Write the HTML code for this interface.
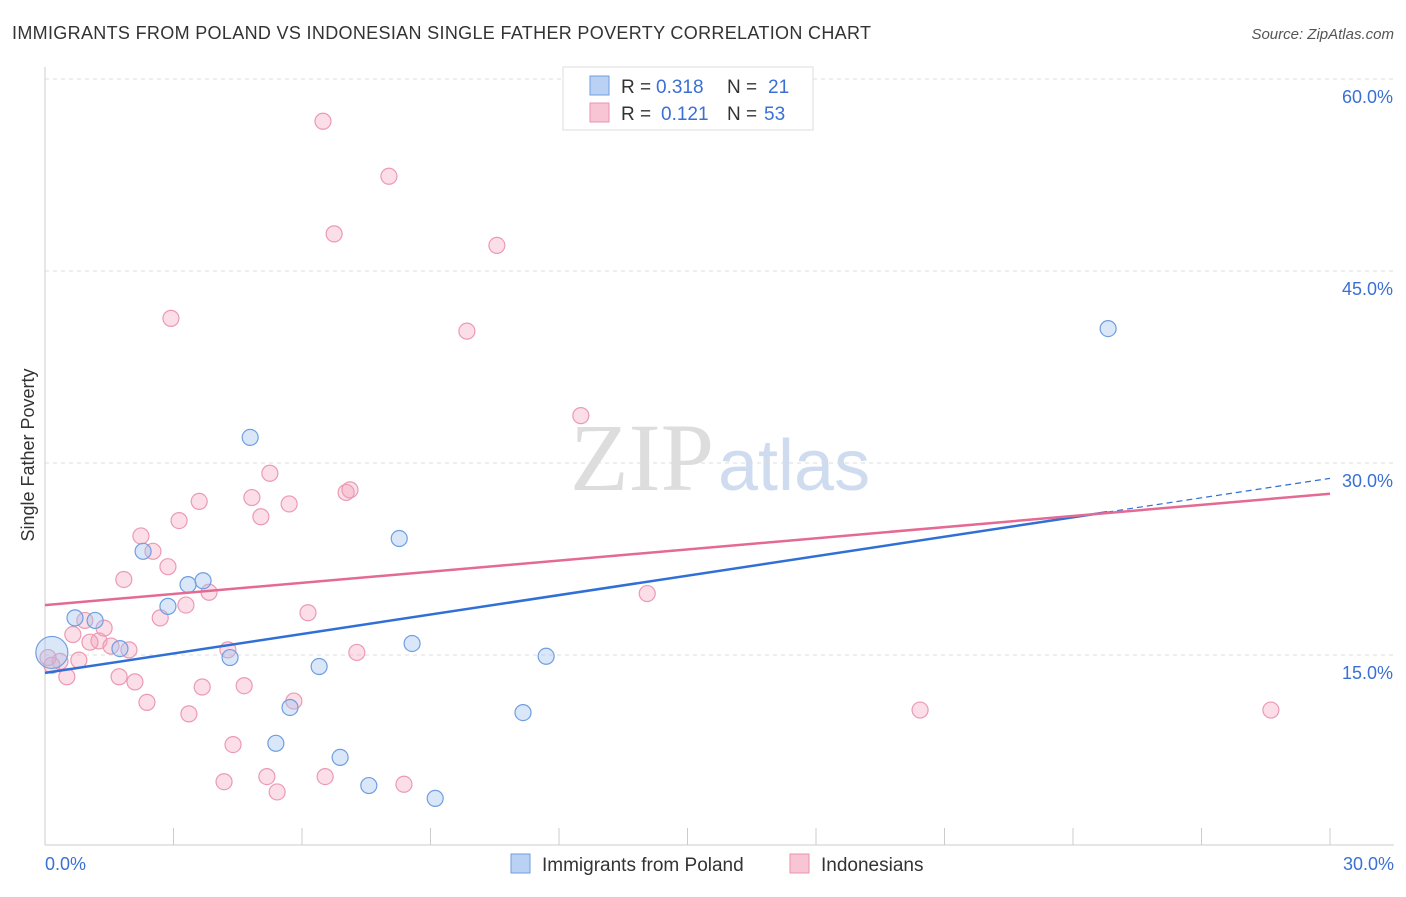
<!DOCTYPE html>
<html><head><meta charset="utf-8"><style>
body{margin:0;background:#fff;font-family:"Liberation Sans",sans-serif;}
</style></head><body>
<svg id="c" width="1406" height="892" xmlns="http://www.w3.org/2000/svg">
<text x="12" y="39" font-size="18" fill="#333" textLength="859">IMMIGRANTS FROM POLAND VS INDONESIAN SINGLE FATHER POVERTY CORRELATION CHART</text>
<text x="1394" y="39" font-size="15" fill="#555" font-style="italic" text-anchor="end">Source: ZipAtlas.com</text>
<text x="714" y="490" font-size="96" fill="#ddd" text-anchor="end" font-family="Liberation Serif,serif">ZIP</text>
<text x="718" y="490" font-size="72" fill="#cfdcf0">atlas</text>
<text transform="translate(34,455) rotate(-90)" font-size="18" fill="#333" text-anchor="middle">Single Father Poverty</text>
<g id="grid"></g><g id="pts"></g><g id="lines"></g>
<g font-size="19">
<rect x="563" y="67" width="250" height="63" fill="#fff" stroke="#ddd"/>
<rect x="590" y="76" width="19" height="19" fill="#b9d2f3" stroke="#6f9ee0"/>
<rect x="590" y="103" width="19" height="19" fill="#f8c5d4" stroke="#ec93ae"/>
<text x="621" y="93" fill="#333">R =</text><text x="656" y="93" fill="#3a70d4">0.318</text>
<text x="727" y="93" fill="#333">N =</text><text x="768" y="93" fill="#3a70d4">21</text>
<text x="621" y="120" fill="#333">R =</text><text x="661" y="120" fill="#3a70d4">0.121</text>
<text x="727" y="120" fill="#333">N =</text><text x="764" y="120" fill="#3a70d4">53</text>
</g>
<g>
<rect x="511" y="854" width="19" height="19" fill="#b9d2f3" stroke="#6f9ee0"/>
<text x="542" y="871" font-size="19" fill="#333">Immigrants from Poland</text>
<rect x="790" y="854" width="19" height="19" fill="#f8c5d4" stroke="#ec93ae"/>
<text x="821" y="871" font-size="19" fill="#333">Indonesians</text>
</g>
</svg>
<script>
const xTicks=[0,3,6,9,12,15,18,21,24,27,30];
const yTicks=[15,30,45,60];
const blueX=[0.16,0.70,1.17,1.75,2.29,2.87,3.34,3.69,4.32,4.79,5.72,5.39,6.40,6.89,7.56,8.27,8.57,9.11,11.16,11.70,24.82];
const blueY=[15.2,17.9,17.7,15.5,23.1,18.8,20.5,20.8,14.8,32.0,10.9,8.1,14.1,7.0,4.8,24.1,15.9,3.8,10.5,14.9,40.5];
const pinkX=[6.49,8.03,6.75,10.55,2.94,9.85,12.51,5.25,7.03,7.12,3.60,4.83,5.70,3.13,5.04,2.24,2.52,2.87,1.84,3.83,3.29,14.06,6.14,2.69,0.93,1.38,0.65,1.26,1.05,1.54,1.96,4.27,7.28,0.79,0.35,0.16,0.51,1.73,2.10,3.67,4.65,2.38,5.81,3.36,20.43,28.62,4.39,5.18,6.54,4.18,8.38,5.42,0.07];
const pinkY=[56.7,52.4,47.9,47.0,41.3,40.3,33.7,29.2,27.7,27.9,27.0,27.3,26.8,25.5,25.8,24.3,23.1,21.9,20.9,19.9,18.9,19.8,18.3,17.9,17.7,17.1,16.6,16.1,16.0,15.7,15.4,15.4,15.2,14.6,14.5,14.2,13.3,13.3,12.9,12.5,12.6,11.3,11.4,10.4,10.7,10.7,8.0,5.5,5.5,5.1,4.9,4.3,14.8];
const blueTrend=[13.6,28.8];
const pinkTrend=[18.9,27.6];
const sx=v=>45+v*(1285/30), sy=v=>847-v*12.8;
const NS='http://www.w3.org/2000/svg';
function mk(t,a,p){const e=document.createElementNS(NS,t);for(const k in a)e.setAttribute(k,a[k]);p.appendChild(e);return e;}
const G=document.getElementById('grid'),P=document.getElementById('pts'),L=document.getElementById('lines');
mk('line',{x1:45,y1:67,x2:45,y2:845,stroke:'#ccc'},G);
mk('line',{x1:45,y1:845,x2:1394,y2:845,stroke:'#ccc'},G);
yTicks.forEach(t=>{const l=mk('line',{x1:45,y1:sy(t),x2:1394,y2:sy(t),stroke:'#ddd','stroke-dasharray':'4,4'},G);

const tx=mk('text',{x:1393,y:sy(t)+24,'font-size':18,fill:'#3a70d4','text-anchor':'end'},G);tx.textContent=t.toFixed(1)+'%';
});
xTicks.forEach(t=>{const l=mk('line',{x1:sx(t),y1:828,x2:sx(t),y2:845,stroke:'#ccc'},G);
});
[[0,'start',45],[30,'end',1394]].forEach(([v,a,x])=>{const tx=mk('text',{x:x,y:870,'font-size':18,fill:'#3a70d4','text-anchor':a},G);tx.textContent=v.toFixed(1)+'%';
});
pinkX.forEach((x,i)=>{const c=mk('circle',{cx:sx(x),cy:sy(pinkY[i]),r:8,fill:'rgba(244,160,187,0.35)',stroke:'#ec9ab3','stroke-width':1.2},P);
});
blueX.forEach((x,i)=>{const c=mk('circle',{cx:sx(x),cy:sy(blueY[i]),r:i==0?16:8,fill:'rgba(160,195,240,0.4)',stroke:'#6f9ee0','stroke-width':1.2},P);
});
const bAt=v=>blueTrend[0]+(blueTrend[1]-blueTrend[0])*v/30;
let l1=mk('line',{x1:sx(0),y1:sy(bAt(0)),x2:sx(24.8),y2:sy(bAt(24.8)),stroke:'#2f6fd6','stroke-width':2.5},L);

let l2=mk('line',{x1:sx(24.8),y1:sy(bAt(24.8)),x2:sx(30),y2:sy(bAt(30)),stroke:'#2f6fd6','stroke-width':1.2,'stroke-dasharray':'6,4'},L);

let l3=mk('line',{x1:sx(0),y1:sy(pinkTrend[0]),x2:sx(30),y2:sy(pinkTrend[1]),stroke:'#e46a93','stroke-width':2.5},L);

</script>
</body></html>
